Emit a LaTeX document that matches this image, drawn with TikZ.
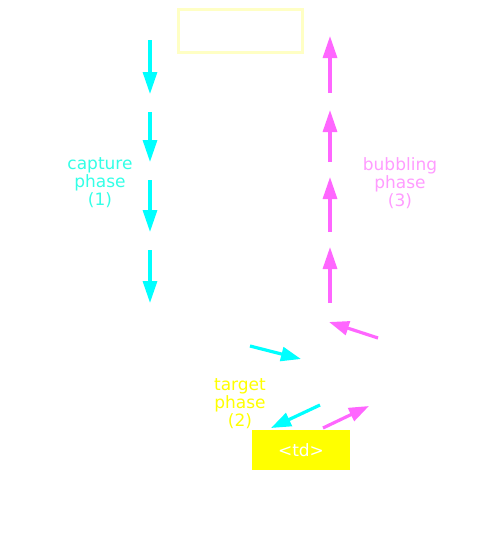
\documentclass[tikz,border=0pt]{standalone}
\usepackage{fontspec}
\setmainfont{DejaVu Sans}
\usetikzlibrary{arrows.meta}
\definecolor{capcyan}{HTML}{00FFFF}
\definecolor{captext}{HTML}{33FFE6}
\definecolor{bubpink}{HTML}{FF66FF}
\definecolor{bubtext}{HTML}{FF9CFF}
\definecolor{tgtyellow}{HTML}{FFFF00}
\definecolor{paleyellow}{HTML}{FFFFC4}

\begin{document}
\begin{tikzpicture}[x=1pt, y=-1pt,
		phase/.style={align=center, font=\fontsize{17}{18}\selectfont},
		capflow/.style={draw=capcyan, line width=3.2pt, -{Triangle[length=22pt, width=14pt]}},
		bubflow/.style={draw=bubpink, line width=3.2pt, -{Triangle[length=22pt, width=14pt]}},
		slant/.style={-{Triangle[length=20pt, width=14pt]}}]
	\useasboundingbox (0,0) rectangle (480,560);
	\node [draw=paleyellow, line width=3pt, minimum width=124pt, minimum height=43pt, inner sep=0pt]%
				(win) at (240,30.5) {};
	\node [fill=tgtyellow, text=white, minimum width=98pt, minimum height=40pt, inner sep=0pt,%
				font=\fontsize{17}{18}\selectfont] (td) at (301,450) {<td>};
	\node [phase, text=captext] (cap) at (100,183) {capture\\phase\\(1)};
	\node [phase, text=bubtext] (bub) at (400,183) {bubbling\\phase\\(3)};
	\node [phase, text=tgtyellow] (tgt) at (240,404) {target\\phase\\(2)};
	\foreach \i/\a/\b in {1/40/94, 2/112/162, 3/180/232, 4/250/303} {
		\coordinate (c\i s) at (150,\a);
		\coordinate (c\i e) at (150,\b);
		\draw [capflow] (c\i s) -- (c\i e);
	}
	\foreach \i/\a/\b in {1/93/36, 2/162/110, 3/232/177, 4/303/247} {
		\coordinate (b\i s) at (330,\a);
		\coordinate (b\i e) at (330,\b);
		\draw [bubflow] (b\i s) -- (b\i e);
	}
	\coordinate (b0s) at (378,338);	\coordinate (b0e) at (329,322);
	\draw [bubflow, slant] (b0s) -- (b0e);
	\coordinate (c5s) at (250,346);	\coordinate (c5e) at (301,359);
	\draw [capflow, slant] (c5s) -- (c5e);
	\coordinate (c6s) at (320,405);	\coordinate (c6e) at (271,428);
	\draw [capflow, slant] (c6s) -- (c6e);
	\coordinate (b5s) at (323,428);	\coordinate (b5e) at (369,406);
	\draw [bubflow, slant] (b5s) -- (b5e);
\end{tikzpicture}
\end{document}
